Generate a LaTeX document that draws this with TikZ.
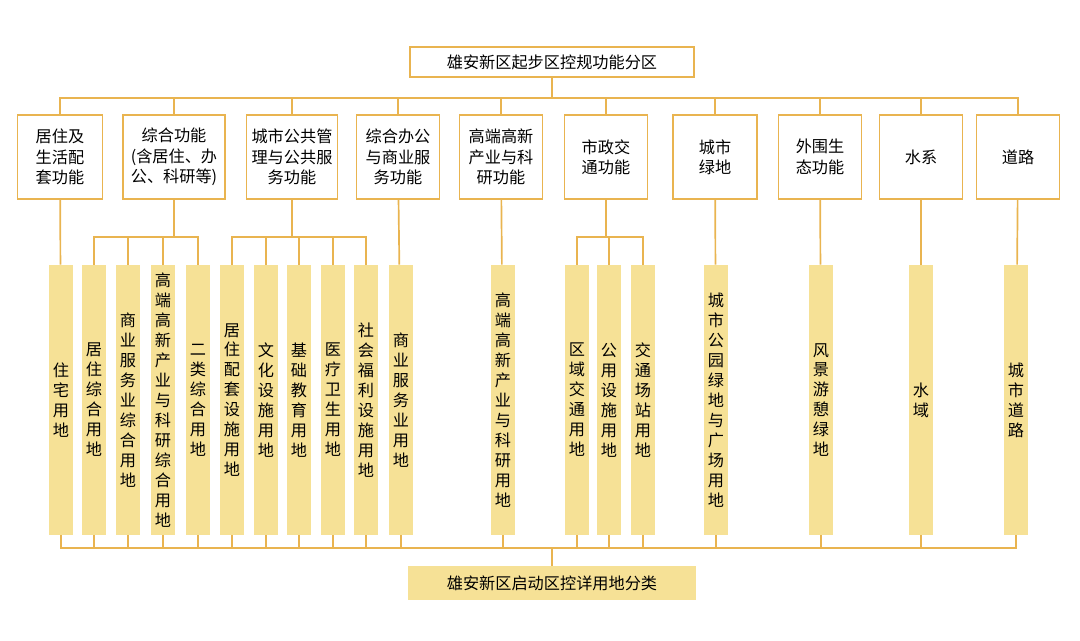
\documentclass[tikz,border=0pt]{standalone}
\usepackage{fontspec}
\setmainfont{Noto Sans CJK SC}
\definecolor{jin}{HTML}{E9B450}
\definecolor{huang}{HTML}{F6E196}
\begin{document}
\begin{tikzpicture}[x=0.025cm,y=-0.025cm]
	\tikzset{kuang/.style={draw=jin, line width=1.2pt, fill=white, minimum height=2.1cm, inner sep=1pt, align=center, font=\fontsize{11.5}{14.5}\selectfont},
		tiao/.style={fill=huang, minimum width=0.6cm, minimum height=6.75cm, inner sep=0pt, align=center, font=\fontsize{11.5}{14.2}\selectfont},
		xian/.style={draw=jin, line width=1.2pt}};
	\useasboundingbox (0,0) rectangle (1080,640);
	\node[kuang, minimum height=0.75cm, minimum width=7.1cm] (top) at (552,62) {雄安新区起步区控规功能分区};
	\node[fill=huang, minimum height=0.85cm, minimum width=7.2cm, font=\fontsize{11.5}{14}\selectfont] (bottom) at (552,583) {雄安新区启动区控详用地分类};

	% function boxes
	\node[kuang, minimum width=2.12cm] (cat1) at (60,157) {居住及\\生活配\\套功能};
	\node[kuang, minimum width=2.55cm] (cat2) at (174,157) {综合功能\\(含居住、办\\公、科研等)};
	\node[kuang, minimum width=2.28cm] (cat3) at (292,157) {城市公共管\\理与公共服\\务功能};
	\node[kuang, minimum width=2.08cm] (cat4) at (398,157) {综合办公\\与商业服\\务功能};
	\node[kuang, minimum width=2.08cm] (cat5) at (501,157) {高端高新\\产业与科\\研功能};
	\node[kuang, minimum width=2.08cm] (cat6) at (606,157) {市政交\\通功能};
	\node[kuang, minimum width=2.1cm] (cat7) at (715,157) {城市\\绿地};
	\node[kuang, minimum width=2.08cm] (cat8) at (820,157) {外围生\\态功能};
	\node[kuang, minimum width=2.08cm] (cat9) at (921,157) {水系};
	\node[kuang, minimum width=2.08cm] (cat10) at (1018,157) {道路};

	% land use bars
	\node[tiao] (b1) at (61,400) {住\\宅\\用\\地};
	\node[tiao] (b2) at (94,400) {居\\住\\综\\合\\用\\地};
	\node[tiao] (b3) at (128,400) {商\\业\\服\\务\\业\\综\\合\\用\\地};
	\node[tiao] (b4) at (163,400) {高\\端\\高\\新\\产\\业\\与\\科\\研\\综\\合\\用\\地};
	\node[tiao] (b5) at (198,400) {二\\类\\综\\合\\用\\地};
	\node[tiao] (b6) at (232,400) {居\\住\\配\\套\\设\\施\\用\\地};
	\node[tiao] (b7) at (266,400) {文\\化\\设\\施\\用\\地};
	\node[tiao] (b8) at (299,400) {基\\础\\教\\育\\用\\地};
	\node[tiao] (b9) at (333,400) {医\\疗\\卫\\生\\用\\地};
	\node[tiao] (b10) at (366,400) {社\\会\\福\\利\\设\\施\\用\\地};
	\node[tiao] (b11) at (401,400) {商\\业\\服\\务\\业\\用\\地};
	\node[tiao] (b12) at (503,400) {高\\端\\高\\新\\产\\业\\与\\科\\研\\用\\地};
	\node[tiao] (b13) at (577,400) {区\\域\\交\\通\\用\\地};
	\node[tiao] (b14) at (609,400) {公\\用\\设\\施\\用\\地};
	\node[tiao] (b15) at (643,400) {交\\通\\场\\站\\用\\地};
	\node[tiao] (b16) at (716,400) {城\\市\\公\\园\\绿\\地\\与\\广\\场\\用\\地};
	\node[tiao] (b17) at (821,400) {风\\景\\游\\憩\\绿\\地};
	\node[tiao] (b18) at (921,400) {水\\域};
	\node[tiao] (b19) at (1016,400) {城\\市\\道\\路};

	\coordinate (hub) at (552,98);
	\coordinate (base) at (552,548);
	\coordinate (g2) at (174,237);
	\coordinate (g3) at (292,237);
	\coordinate (g6) at (606,237);

	\draw[xian] (top) -- (hub);
	\foreach \i in {1,...,10} \draw[xian] (hub) -| (cat\i.north);
	\draw[xian] (cat2) -- (g2);
	\draw[xian] (cat3) -- (g3);
	\draw[xian] (cat6) -- (g6);
	\foreach \i in {2,...,5} \draw[xian] (g2) -| (b\i.north);
	\foreach \i in {6,...,10} \draw[xian] (g3) -| (b\i.north);
	\foreach \i in {13,14,15} \draw[xian] (g6) -| (b\i.north);
	\draw[xian] (cat1) -- (b1);
	\draw[xian] (cat4) -- (b11);
	\draw[xian] (cat5) -- (b12);
	\draw[xian] (cat7) -- (b16);
	\draw[xian] (cat8) -- (b17);
	\draw[xian] (cat9) -- (b18);
	\draw[xian] (cat10) -- (b19);
	\foreach \i in {1,...,19} \draw[xian] (b\i.south) |- (base);
	\draw[xian] (base) -- (bottom);
\end{tikzpicture}
\end{document}
